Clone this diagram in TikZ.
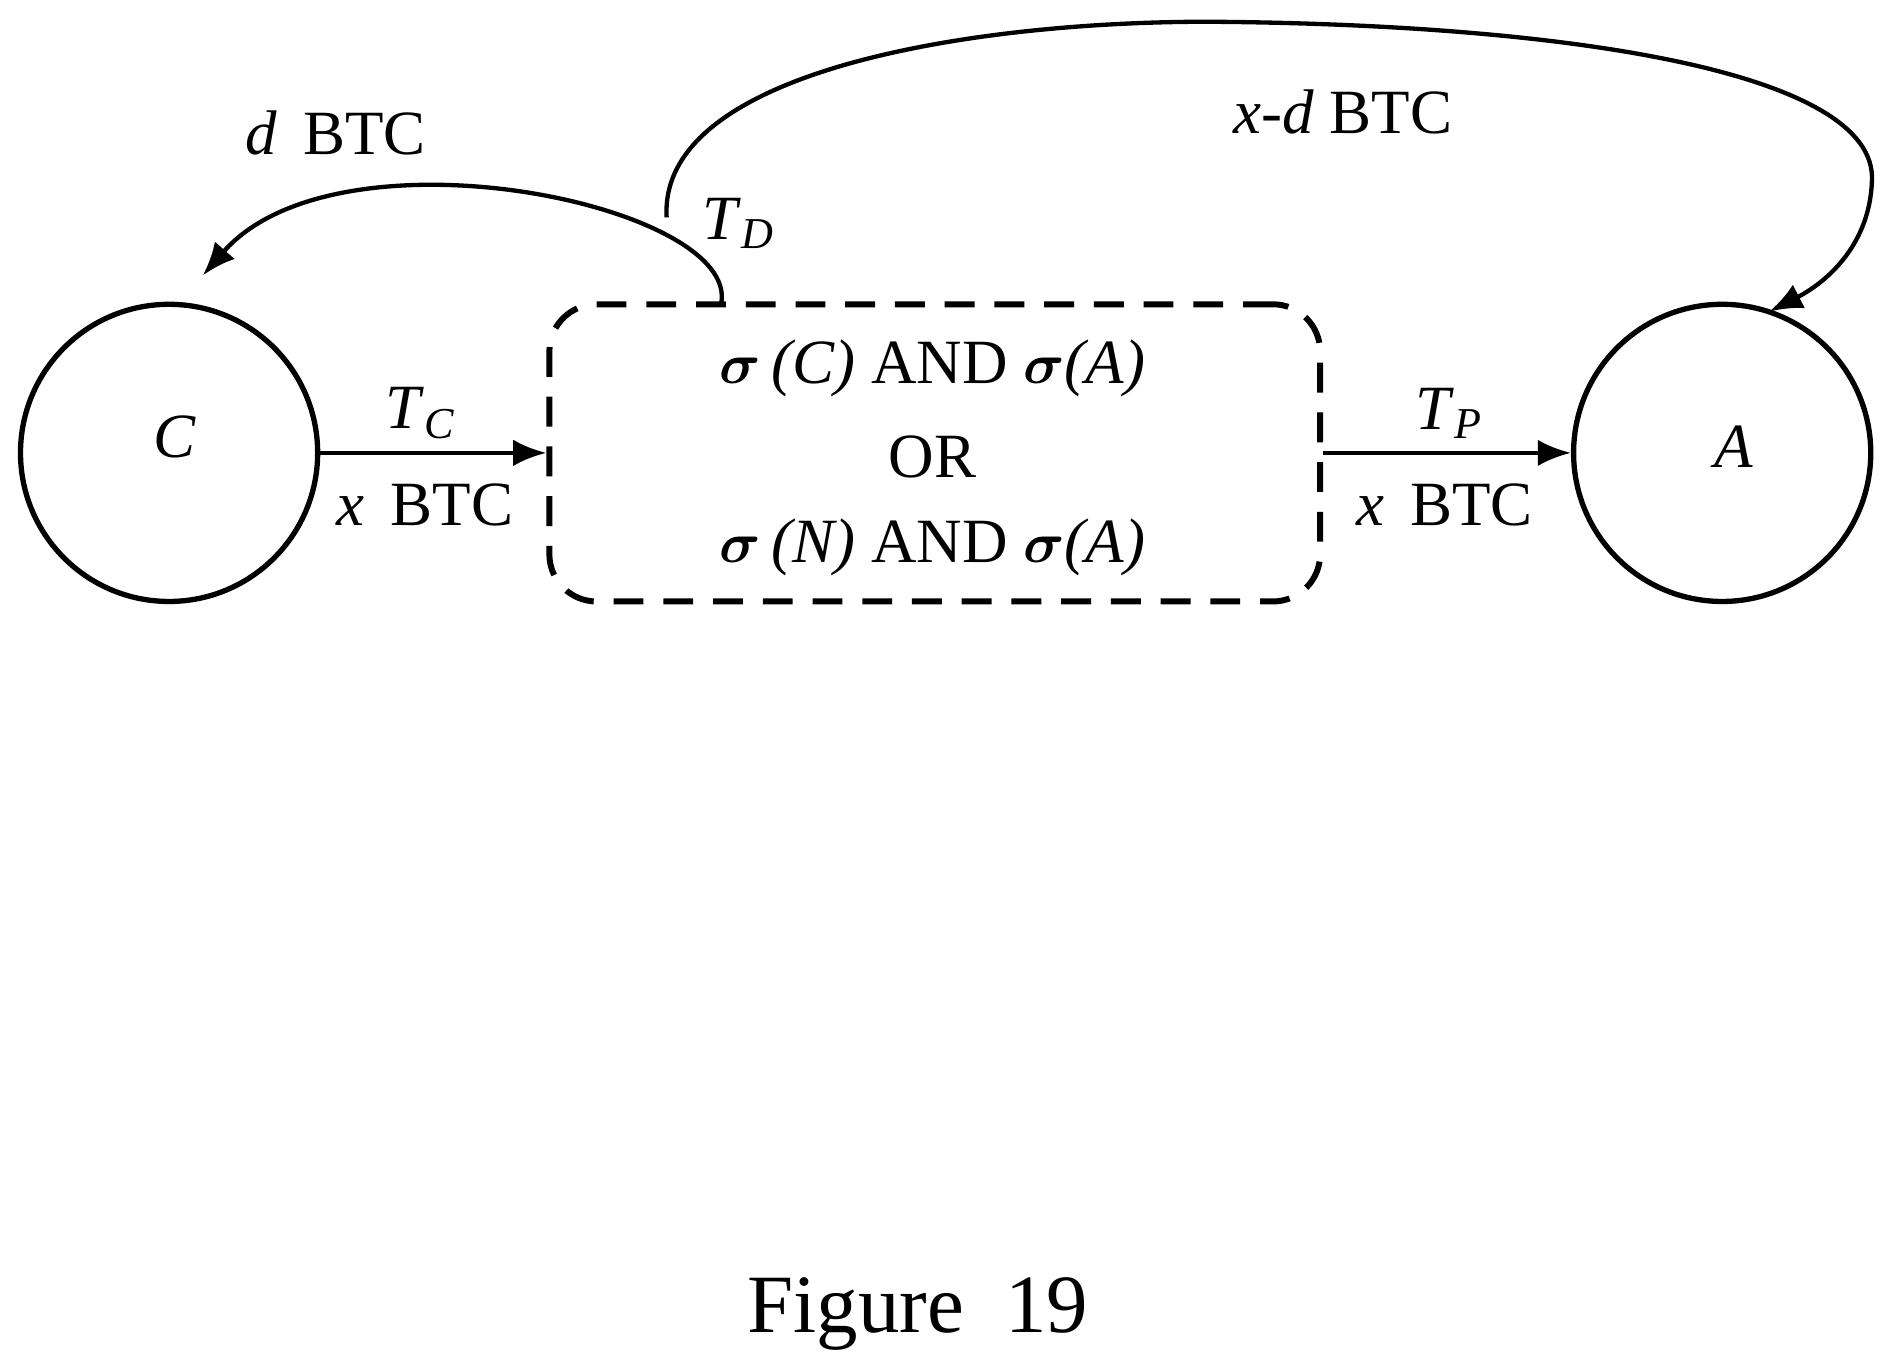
\documentclass[tikz,border=0pt]{standalone}
\usepackage{amsmath}
\usepackage{fontspec}
\setmainfont{Liberation Serif}
\begin{document}
\begin{tikzpicture}[x=0.0128cm,y=-0.0128cm,
  lbl/.style={font=\fontsize{19}{22}\selectfont},
  circ/.style={circle,draw,line width=1.6pt,minimum size=246\pgflinewidth/1.6pt*0+3.15cm,inner sep=0},
  arr/.style={-{Latex[length=10pt,width=8pt]},line width=1.3pt}]
\usetikzlibrary{arrows.meta}
\useasboundingbox (0,0) rectangle (1560,1135);
\node[circ,minimum size=3.15cm] (C) at (140,375) {};
\node[lbl] at (145,362) {\textit{C}};
\node[circ,minimum size=3.15cm] (A) at (1426,375) {};
\node[lbl] at (1436,370) {\textit{A}};
\node[draw,dashed,line width=1.8pt,rounded corners=0.5cm,minimum width=8.17cm,minimum height=3.15cm,dash pattern=on 9pt off 6pt] (box) at (774,375) {};
\node[lbl] at (772,305) {$\boldsymbol{\sigma}$\,\textit{(C)} AND $\boldsymbol{\sigma}$\textit{(A)}};
\node[lbl] at (772,378) {OR};
\node[lbl] at (772,453) {$\boldsymbol{\sigma}$\,\textit{(N)} AND $\boldsymbol{\sigma}$\textit{(A)}};
\draw[arr] (C.east) -- (box.west);
\draw[arr] (box.east) -- (A.west);
\node[lbl] at (348,342) {\textit{T}$_{\textit{C}}$};
\node[lbl] at (352,418) {\textit{x}\, BTC};
\node[lbl] at (1200,342) {\textit{T}$_{\textit{P}}$};
\node[lbl] at (1196,418) {\textit{x}\, BTC};
\coordinate (td) at (597,252);
\coordinate (tc) at (168,228);
\coordinate (s) at (552,180);
\coordinate (ta) at (1465,258);
\draw[arr] (td) .. controls (615,170) and (280,100) .. (tc);
\draw[arr] (s) .. controls (545,60) and (800,18) .. (1000,18) .. controls (1300,20) and (1555,60) .. (1550,150) .. controls (1548,205) and (1510,235) .. (ta);
\node[lbl] at (612,185) {\textit{T}$_{\textit{D}}$};
\node[lbl] at (278,110) {\textit{d}\, BTC};
\node[lbl] at (1112,93) {\textit{x}-\textit{d} BTC};
\node[font=\fontsize{25}{30}\selectfont] at (760,1088) {Figure\ \ 19};
\end{tikzpicture}
\end{document}
